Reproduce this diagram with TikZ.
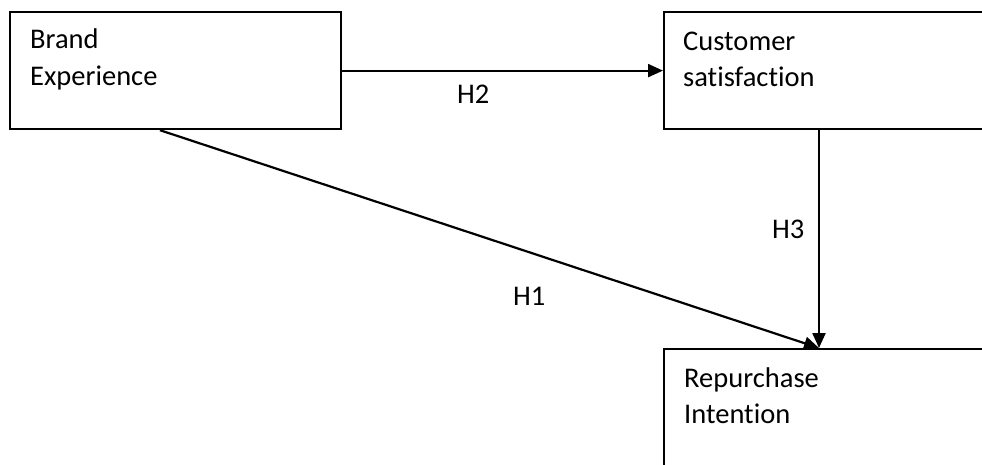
\documentclass[tikz,border=0pt]{standalone}
\usepackage{fontspec}
\setmainfont[Ligatures=NoCommon]{Carlito}
\usetikzlibrary{arrows.meta,calc}
\begin{document}
\begin{tikzpicture}[x=1pt,y=-1pt,
  box/.style={draw=black,line width=2.2pt,rectangle,inner sep=0pt,anchor=north west},
  txt/.style={anchor=base west,inner sep=0pt,font=\fontsize{28.5}{37}\selectfont},
  arr/.style={draw=black,line width=2.2pt,-{Triangle[length=15pt,width=13pt]}}]
\useasboundingbox (0,0) rectangle (982,464);
\clip (0,0) rectangle (982,464);
\node[box,minimum width=331pt,minimum height=117pt] (be) at (9,11) {};
\node[box,minimum width=360pt,minimum height=117pt] (cs) at (663,11) {};
\node[box,minimum width=360pt,minimum height=160pt] (rp) at (663,348) {};
\node[txt] (t1) at (30,48) {Brand};
\node[txt] (t2) at (30,85) {Experience};
\node[txt] (t3) at (683,50) {Customer};
\node[txt] (t4) at (683,86) {satisfaction};
\node[txt] (t5) at (684,387) {Repurchase};
\node[txt] (t6) at (684,423) {Intention};
\coordinate (h1s) at ($(be.south west)+(151,0)$);
\coordinate (h3s) at ($(cs.south west)+(156,0)$);
\coordinate (h3e) at ($(rp.north west)+(156,0)$);
\draw[arr] (be.east) -- (cs.west);
\draw[arr] (h3s) -- (h3e);
\draw[arr] (h1s) -- (h3e);
\node[txt] (l2) at (457,103) {H2};
\node[txt] (l3) at (772,238) {H3};
\node[txt] (l1) at (513,305) {H1};
\end{tikzpicture}
\end{document}
